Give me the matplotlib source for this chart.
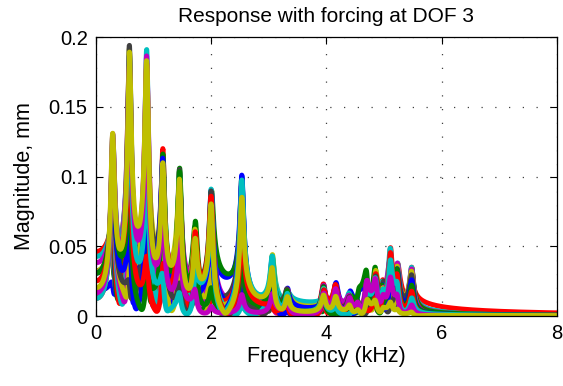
import numpy as np
import matplotlib.pyplot as plt

plt.rcParams['font.family'] = ['Liberation Sans', 'DejaVu Sans']

# resonances: frequency (kHz) and tallest peak there (mm)
mode_freq = [0.29, 0.58, 0.88, 1.16, 1.45, 1.72, 2.00, 2.53, 3.06, 3.32,
             3.95, 4.16, 4.40, 4.55, 4.70, 4.85, 4.98, 5.11, 5.23, 5.48]
peak_mag = [0.131, 0.194, 0.191, 0.120, 0.106, 0.068, 0.091, 0.101, 0.044, 0.020,
            0.023, 0.024, 0.018, 0.021, 0.033, 0.035, 0.026, 0.049, 0.038, 0.035]
n_dof = 20
force_dof = 3

# MATLAB's old colour order, cycled over the DOFs
colours = [(0, 0, 1), (0, 0.5, 0), (1, 0, 0), (0, 0.75, 0.75),
           (0.75, 0, 0.75), (0.75, 0.75, 0), (0.25, 0.25, 0.25)]

fk = np.array(mode_freq)
hk = np.array(peak_mag)
bw = np.full(len(fk), 0.03)      # half bandwidth of each mode, kHz
freq = np.linspace(0, 8, 3201)

# fixed-free chain mode shapes, residues for forcing at DOF 3
j = np.arange(1, n_dof + 1)[:, None]
k = np.arange(1, len(fk) + 1)[None, :]
phi = np.sin((2 * k - 1) * np.pi * j / (2 * n_dof + 1))
res = phi * phi[force_dof - 1]
res = res / np.abs(res).max(axis=0)

den = fk[:, None] ** 2 - freq[None, :] ** 2 + 2j * bw[:, None] * freq[None, :]
scale = hk * 2 * bw * fk


def response(scale):
    return np.abs((res * scale) @ (1 / den))


# scale each mode so the tallest curve hits the peak height seen in the plot
for _ in range(15):
    mag = response(scale)
    for m in range(len(fk)):
        win = np.abs(freq - fk[m]) < bw[m]
        scale[m] *= hk[m] / mag[:, win].max()
mag = response(scale)

fig = plt.figure(figsize=(5.63, 3.86), dpi=100)
ax = fig.add_axes([0.1705, 0.1813, 0.8188, 0.7228])
for d in range(n_dof):
    ax.plot(freq, mag[d], color=colours[d % 7], lw=3.6, solid_capstyle='round')

ax.set_xlim(0, 8)
ax.set_ylim(0, 0.2)
ax.set_xticks([0, 2, 4, 6, 8])
ax.set_yticks([0, 0.05, 0.1, 0.15, 0.2])
ax.set_yticklabels(['0', '0.05', '0.1', '0.15', '0.2'])
ax.grid(True, color='0.25', linestyle=(0, (1, 10)), lw=0.9)
ax.tick_params(direction='in', top=True, right=True, length=5,
               labelsize=14.5, pad=6)
for s in ax.spines.values():
    s.set_linewidth(0.9)
ax.set_title('Response with forcing at DOF 3', fontsize=15, pad=11)
ax.set_xlabel('Frequency (kHz)', fontsize=15.5, labelpad=2)
ax.set_ylabel('Magnitude, mm', fontsize=15.5, labelpad=10)

fig.savefig('out.png', dpi=100)
